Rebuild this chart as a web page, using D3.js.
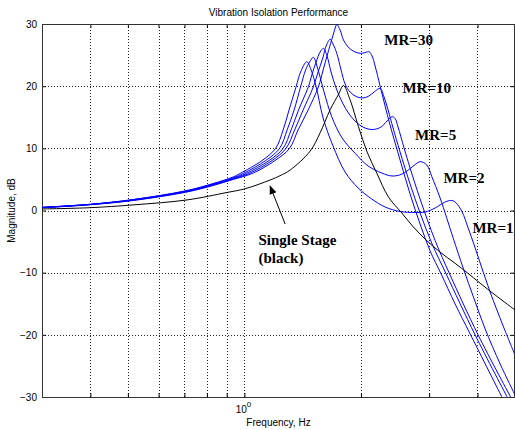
<!DOCTYPE html>
<html><head><meta charset="utf-8">
<script src="https://cdn.jsdelivr.net/npm/d3@7"></script>
<style>body{margin:0;background:#fff}svg{display:block}</style>
</head><body><svg id="c" width="515" height="430"></svg>
<script>
// ---- data (frequency in Hz, magnitude in dB) ----
const gridFreqs = [0.4,0.5,0.6,0.7,0.8,0.9,1,2,3,4];
const dbTicks = [-30,-20,-10,0,10,20,30];

const singleF  = [0.3,0.399,0.516,0.711,0.902,1.004,1.165,1.236,1.312,1.478,1.569,1.665,1.751,1.802,1.875,1.970,2.075,2.198,2.354,2.550,2.732,2.930,3.203,3.502,3.762,4.065,4.444,5.0];
const singleDb = [0.25,0.45,0.9,1.7,2.9,3.5,4.9,5.6,6.5,9.55,12.5,16.2,18.7,20.1,17.8,13.5,9.4,6.0,2.2,-0.4,-2.65,-4.6,-6.7,-8.5,-10.0,-11.7,-13.6,-16.0];

const mr1F  = [0.3,0.399,0.516,0.711,0.830,0.935,0.974,1.111,1.204,1.259,1.304,1.360,1.397,1.449,1.487,1.532,1.597,1.694,1.820,1.967,2.133,2.309,2.524,2.760,2.930,3.109,3.300,3.435,3.523,3.651,3.784,3.922,4.089,4.313,4.660,5.0];
const mr1Db = [0.52,1.0,1.77,3.22,4.34,5.39,5.95,8.04,10.0,12.95,16.17,19.91,22.28,23.94,22.6,19.91,14.88,10.38,6.19,3.62,1.85,0.56,-0.16,-0.32,-0.24,0.40,1.37,1.61,1.21,-0.24,-2.81,-5.55,-8.93,-13.11,-18.58,-23.24];

const mr2F  = [0.3,0.399,0.516,0.711,0.830,0.935,0.992,1.135,1.233,1.289,1.344,1.397,1.439,1.474,1.507,1.550,1.606,1.681,1.788,1.932,2.087,2.264,2.407,2.555,2.711,2.843,2.959,3.049,3.203,3.461,3.673,3.922,4.187,4.578,5.0];
const mr2Db = [0.5,0.99,1.74,3.17,4.26,5.26,5.95,8.04,10.0,12.95,16.17,19.91,22.6,23.89,24.64,22.6,19.06,15.09,11.66,9.2,7.16,6.03,5.55,5.87,7.0,7.85,7.32,5.44,2.01,-4.42,-9.25,-14.24,-19.06,-24.69,-29.68];

const mr5F  = [0.3,0.399,0.516,0.711,0.830,0.935,1.010,1.158,1.259,1.320,1.380,1.463,1.496,1.532,1.569,1.600,1.635,1.674,1.725,1.788,1.864,1.955,2.050,2.150,2.254,2.336,2.407,2.450,2.494,2.585,2.679,2.843,3.109,3.399,4.016,4.887];
const mr5Db = [0.48,0.97,1.69,3.10,4.18,5.15,5.95,8.04,10.0,12.95,16.17,19.91,21.96,23.89,25.5,26.09,24.85,22.28,19.71,17.45,15.52,14.07,13.27,13.03,13.43,14.40,15.09,14.80,13.43,10.05,6.84,1.85,-4.83,-10.38,-20.03,-30.16];

const mr10F  = [0.3,0.399,0.516,0.711,0.830,0.935,1.028,1.179,1.281,1.348,1.418,1.507,1.550,1.594,1.626,1.665,1.694,1.732,1.777,1.820,1.875,1.943,2.014,2.087,2.163,2.241,2.295,2.350,2.421,2.524,2.679,2.843,3.054,3.320,3.945,4.772];
const mr10Db = [0.47,0.95,1.66,3.06,4.10,5.07,5.95,8.04,10.0,12.95,16.17,19.91,22.28,24.53,26.46,27.54,26.78,25.29,22.6,20.35,19.06,18.34,18.10,18.34,19.06,19.66,18.26,16.17,13.27,9.41,4.26,-0.40,-5.39,-10.21,-20.03,-30.0];

const mr30F  = [0.3,0.399,0.516,0.711,0.830,0.935,1.047,1.200,1.308,1.376,1.461,1.553,1.597,1.640,1.680,1.707,1.732,1.767,1.802,1.853,1.909,1.967,2.014,2.062,2.100,2.137,2.176,2.241,2.309,2.378,2.524,2.679,2.843,3.018,3.222,3.502,3.830,4.625];
const mr30Db = [0.43,0.92,1.61,2.98,4.02,4.99,5.95,8.04,10.0,12.95,16.17,19.91,22.6,25.17,27.43,28.87,29.89,29.03,27.43,26.30,25.66,25.34,25.29,25.46,25.54,24.85,23.24,20.03,16.81,13.75,8.12,2.65,-2.17,-6.51,-10.21,-15.04,-19.87,-30.0];

const annoText = ["MR=30","MR=10","MR=5","MR=2","MR=1","Single Stage","(black)"];
const annoF    = [2.299,2.559,2.760,3.267,3.882,1.087,1.087];
const annoDb   = [27.43,19.71,12.14,5.28,-2.77,-4.75,-7.64];
const arrowFrom = [1.274,-2.17];
const arrowTo   = [1.165,3.94];

// ---- chart ----
const svg = d3.select("#c");
const L=42, R=515, T=24, B=397;
const x = d3.scaleLog().domain([0.3,5]).range([L,R]);
const y = d3.scaleLinear().domain([-30,30]).range([B,T]);
const sans = "'Liberation Sans', Arial, sans-serif";
const serif = "'Liberation Serif', 'Times New Roman', serif";

svg.append("defs").append("clipPath").attr("id","clip")
  .append("rect").attr("x",L).attr("y",T).attr("width",R-L).attr("height",B-T);
const marker = svg.select("defs").append("marker").attr("id","arr")
  .attr("viewBox","0 0 10 10").attr("refX",9).attr("refY",5)
  .attr("markerWidth",9).attr("markerHeight",9).attr("markerUnits","userSpaceOnUse")
  .attr("orient","auto");
marker.append("path").attr("d","M0,1 L10,5 L0,9 Z").attr("fill","#000");

// grid
const grid = svg.append("g").attr("stroke","#222").attr("stroke-width",1).attr("stroke-dasharray","1,2");
grid.selectAll("line.v").data(gridFreqs).join("line")
  .attr("x1",d=>Math.round(x(d))+0.5).attr("x2",d=>Math.round(x(d))+0.5)
  .attr("y1",T).attr("y2",B);
grid.selectAll("line.h").data(dbTicks.filter(d=>d>-30&&d<30)).join("line").attr("class","h")
  .attr("x1",L).attr("x2",R).attr("y1",d=>Math.round(y(d))+0.5).attr("y2",d=>Math.round(y(d))+0.5);

// axes
const axL = svg.append("g").attr("transform",`translate(${L},0)`)
  .call(d3.axisLeft(y).tickValues(dbTicks).tickSize(-4).tickPadding(5).tickFormat(d3.format("d")));
const axR = svg.append("g").attr("transform",`translate(${R-0.5},0)`)
  .call(d3.axisRight(y).tickValues(dbTicks).tickSize(-4).tickFormat(""));
const axB = svg.append("g").attr("transform",`translate(0,${B})`)
  .call(d3.axisBottom(x).tickValues(gridFreqs).tickSize(-4).tickFormat(""));
const axT = svg.append("g").attr("transform",`translate(0,${T})`)
  .call(d3.axisTop(x).tickValues(gridFreqs).tickSize(-4).tickFormat(""));
[axL,axR,axB,axT].forEach(g=>{
  g.select(".domain").remove();
  g.selectAll(".tick line").attr("stroke","#000");
  g.selectAll("text").attr("font-family",sans).attr("font-size",10).attr("fill","#000");
});
// 10^0 label
const xl = svg.append("text").attr("x",x(1)-1).attr("y",413).attr("text-anchor","middle")
  .attr("font-family",sans).attr("font-size",10).attr("fill","#000");
xl.append("tspan").text("10");
xl.append("tspan").attr("dy",-6).attr("font-size",8).text("0");

// box
svg.append("rect").attr("x",L+0.5).attr("y",T+0.5).attr("width",R-L-1).attr("height",B-T)
  .attr("fill","none").attr("stroke","#333").attr("stroke-width",1);

// curves
const line = d3.line().x(d=>x(d[0])).y(d=>y(d[1])).curve(d3.curveCatmullRom.alpha(0.5));
const zip = (f,v)=>f.map((d,i)=>[d,v[i]]);
const blues = [[mr1F,mr1Db],[mr2F,mr2Db],[mr5F,mr5Db],[mr10F,mr10Db],[mr30F,mr30Db]];
const plot = svg.append("g").attr("clip-path","url(#clip)");
plot.selectAll("path.b").data(blues).join("path").attr("class","b")
  .attr("d",d=>line(zip(d[0],d[1]))).attr("fill","none").attr("stroke","#0000ff").attr("stroke-width",1);
plot.append("path").attr("d",line(zip(singleF,singleDb))).attr("fill","none")
  .attr("stroke","#000").attr("stroke-width",1);

// annotations
svg.selectAll("text.anno").data(annoText).join("text").attr("class","anno")
  .attr("x",(d,i)=>x(annoF[i])).attr("y",(d,i)=>y(annoDb[i])).attr("dy","0.33em")
  .attr("font-family",serif).attr("font-weight","bold").attr("font-size",15).attr("fill","#000")
  .text(d=>d);
svg.append("line").attr("x1",x(arrowFrom[0])).attr("y1",y(arrowFrom[1]))
  .attr("x2",x(arrowTo[0])).attr("y2",y(arrowTo[1]))
  .attr("stroke","#000").attr("stroke-width",1).attr("marker-end","url(#arr)");

// titles
svg.append("text").attr("x",(L+R)/2).attr("y",16).attr("text-anchor","middle")
  .attr("font-family",sans).attr("font-size",10).text("Vibration Isolation Performance");
svg.append("text").attr("x",(L+R)/2).attr("y",426).attr("text-anchor","middle")
  .attr("font-family",sans).attr("font-size",10).text("Frequency, Hz");
svg.append("text").attr("transform",`translate(15,${(T+B)/2}) rotate(-90)`).attr("text-anchor","middle")
  .attr("font-family",sans).attr("font-size",10).text("Magnitude, dB");
</script></body></html>
